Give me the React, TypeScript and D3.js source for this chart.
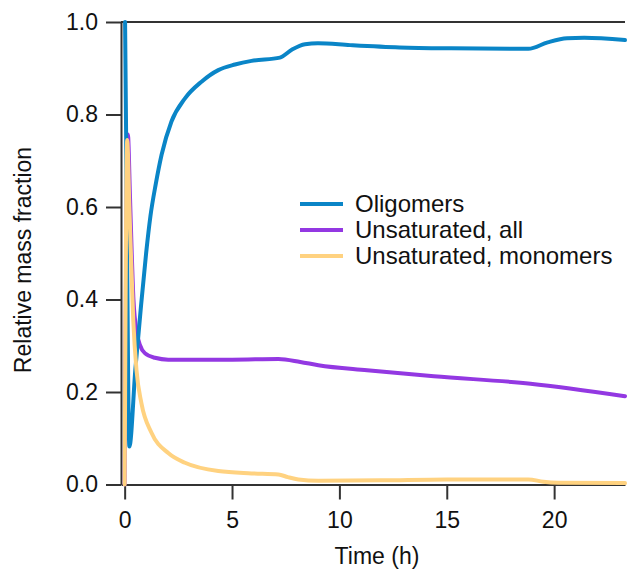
import React, { useEffect, useRef } from "react";
import * as d3 from "d3";

// time (h) and relative mass fraction
const oligomerTime = [0.02, 0.07, 0.22, 0.5, 0.75, 1.0, 1.2, 1.45, 1.72, 2.18, 2.81, 3.58, 4.36, 5.14, 5.91, 7.23, 7.78, 8.4, 9.0, 10.5, 12.8, 15.2, 18.8, 19.7, 20.6, 21.4, 23.3];
const oligomers = [1.0, 0.75, 0.082, 0.25, 0.38, 0.5, 0.58, 0.65, 0.713, 0.785, 0.835, 0.871, 0.896, 0.908, 0.916, 0.923, 0.94, 0.952, 0.954, 0.95, 0.945, 0.943, 0.942, 0.956, 0.965, 0.966, 0.961];

const unsatAllTime = [0, 0.15, 0.25, 0.33, 0.41, 0.57, 0.71, 0.94, 1.41, 2.03, 5.0, 7.16, 8.18, 9.02, 11.29, 14.4, 18.9, 23.3];
const unsatAll = [0, 0.757, 0.62, 0.5, 0.4, 0.328, 0.302, 0.284, 0.274, 0.27, 0.27, 0.2715, 0.265, 0.258, 0.247, 0.234, 0.218, 0.191];

const unsatMonoTime = [0, 0.12, 0.22, 0.4, 0.55, 0.78, 1.25, 2.03, 2.81, 4.36, 5.91, 7.16, 7.6, 8.09, 9.02, 12, 15, 18.8, 19.5, 20.2, 23.3];
const unsatMono = [0, 0.745, 0.6, 0.356, 0.248, 0.176, 0.112, 0.068, 0.047, 0.029, 0.024, 0.0216, 0.016, 0.011, 0.008, 0.009, 0.011, 0.011, 0.006, 0.004, 0.003];

const xTicks = [0, 5, 10, 15, 20];
const yTicks = [0, 0.2, 0.4, 0.6, 0.8, 1.0];

const seriesNames = ["Oligomers", "Unsaturated, all", "Unsaturated, monomers"];
const seriesColors = ["#0a85c7", "#9338e2", "#ffd280"];

const W = 632;
const H = 573;
const plot = { left: 121, right: 625, top: 22, bottom: 484.5 };
const font = "'Liberation Sans', Arial, sans-serif";
const axisColor = "#333";
const tickFont = 23;
const legendFont = 24;

export default function App() {
  const xAxisRef = useRef<SVGGElement>(null);
  const yAxisRef = useRef<SVGGElement>(null);

  const x = d3.scaleLinear().domain([-0.17, 23.3]).range([plot.left, plot.right]);
  const y = d3.scaleLinear().domain([0, 1]).range([plot.bottom, plot.top]);

  const line = d3
    .line<[number, number]>()
    .x((d) => x(d[0]))
    .y((d) => y(d[1]))
    .curve(d3.curveMonotoneX);

  const series = [
    { name: seriesNames[0], color: seriesColors[0], pts: oligomerTime.map((t, i) => [t, oligomers[i]] as [number, number]) },
    { name: seriesNames[1], color: seriesColors[1], pts: unsatAllTime.map((t, i) => [t, unsatAll[i]] as [number, number]) },
    { name: seriesNames[2], color: seriesColors[2], pts: unsatMonoTime.map((t, i) => [t, unsatMono[i]] as [number, number]) },
  ];
  // purple under blue, yellow on top
  const drawOrder = [series[1], series[0], series[2]];

  useEffect(() => {
    const gx = d3.select(xAxisRef.current);
    gx.selectAll("*").remove();
    gx.call(
      d3.axisBottom(x).tickValues(xTicks).tickSize(15).tickSizeOuter(0).tickPadding(12).tickFormat(d3.format("d"))
    );
    gx.select(".domain").attr("stroke", axisColor).attr("stroke-width", 2);
    gx.selectAll(".tick line").attr("stroke", axisColor).attr("stroke-width", 2);
    gx.selectAll(".tick text").attr("fill", "#111").style("font-size", `${tickFont}px`).style("font-family", font);

    const gy = d3.select(yAxisRef.current);
    gy.selectAll("*").remove();
    gy.call(
      d3.axisLeft(y).tickValues(yTicks).tickSize(15).tickSizeOuter(0).tickPadding(8).tickFormat(d3.format(".1f"))
    );
    gy.select(".domain").attr("stroke", axisColor).attr("stroke-width", 2);
    gy.selectAll(".tick line").attr("stroke", axisColor).attr("stroke-width", 2);
    gy.selectAll(".tick text").attr("fill", "#111").style("font-size", `${tickFont}px`).style("font-family", font);
  }, []);

  const legendX = 300;
  const legendY = 204;
  const legendStep = 26;

  return (
    <div style={{ position: "absolute", left: 0, top: 0 }}>
      <svg width={W} height={H} style={{ display: "block", background: "#fff" }}>
        {/* top frame line */}
        <line x1={plot.left} x2={plot.right} y1={plot.top} y2={plot.top} stroke={axisColor} strokeWidth={2} />
        <g ref={xAxisRef} transform={`translate(0,${plot.bottom})`} />
        <g ref={yAxisRef} transform={`translate(${plot.left},0)`} />

        {drawOrder.map((s) => (
          <path
            key={s.name}
            d={line(s.pts) || ""}
            fill="none"
            stroke={s.color}
            strokeWidth={4}
            strokeLinejoin="round"
            strokeLinecap="round"
          />
        ))}

        {series.map((s, i) => (
          <g key={s.name} transform={`translate(${legendX},${legendY + i * legendStep})`}>
            <line x1={0} x2={43} y1={0} y2={0} stroke={s.color} strokeWidth={4} />
            <text x={55} y={0} dy="0.35em" fontSize={legendFont} fontFamily={font} fill="#111">
              {s.name}
            </text>
          </g>
        ))}

        <text
          x={(plot.left + plot.right) / 2 + 4}
          y={564}
          textAnchor="middle"
          fontSize={tickFont}
          fontFamily={font}
          fill="#111"
        >
          Time (h)
        </text>
        <text
          transform={`translate(31,260) rotate(-90)`}
          textAnchor="middle"
          fontSize={tickFont}
          fontFamily={font}
          fill="#111"
        >
          Relative mass fraction
        </text>
      </svg>
    </div>
  );
}
